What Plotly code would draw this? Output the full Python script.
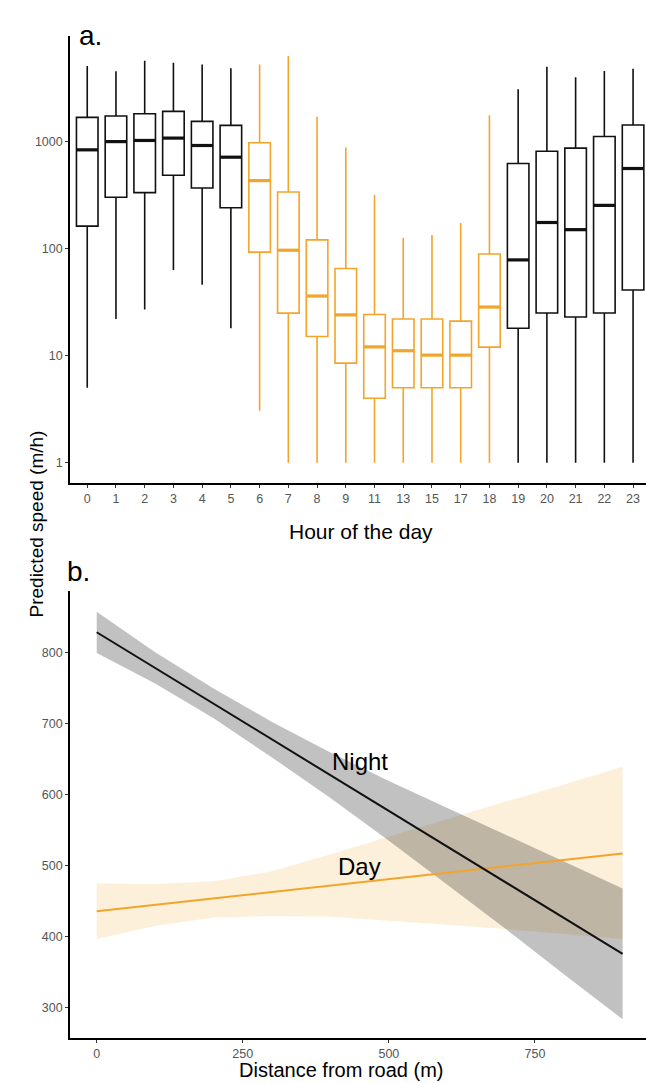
import plotly.graph_objects as go

# ---------------- data: panel a (boxplots, log scale) ----------------
hours = ["0", "1", "2", "3", "4", "5", "6", "7", "8", "9", "11", "13", "15", "17", "18",
         "19", "20", "21", "22", "23"]
period = ["Night"] * 6 + ["Day"] * 9 + ["Night"] * 5
box_low = [5.0, 22, 27, 63, 46, 18, 3.05, 1, 1, 1, 1, 1, 1, 1, 1, 1, 1, 1, 1, 1]
box_q1 = [162, 301, 333, 483, 368, 240, 92.5, 24.9, 15.1, 8.5, 4.0, 5.0, 5.0, 5.0, 12, 18, 25, 22.9, 25, 41]
box_med = [835, 997, 1022, 1075, 917, 713, 431, 96.4, 36, 24, 12.05, 11.1, 10.1, 10.1, 28.4, 78.3, 175, 150, 253, 559]
box_q3 = [1680, 1730, 1815, 1910, 1540, 1413, 972, 337, 120.5, 65, 24.2, 22, 22, 21, 89, 622, 811, 866, 1114, 1423]
box_high = [5080, 4530, 5660, 5420, 5230, 4830, 5230, 6270, 1703, 878, 316, 126, 134, 173, 1754, 3072, 4980, 3980, 4560, 4770]
log_ticks = [1, 10, 100, 1000]

# ---------------- data: panel b (predictions with CI) ----------------
dist = [0, 100, 200, 300, 400, 500, 600, 700, 800, 900]
night_fit = [828, 777.8, 727.6, 677.3, 627.1, 576.9, 526.7, 476.5, 426.2, 376]
night_upper = [857, 800, 749, 702, 659, 619, 581, 543, 505, 468]
night_lower = [799, 756, 707, 652, 595, 535, 473, 411, 347, 284]
day_fit = [436, 445, 454, 463, 472, 481, 490, 499, 508, 517]
day_upper = [475, 474, 478, 492, 516, 541, 566, 590, 614, 639]
day_lower = [397, 415, 427, 429, 428, 423, 417, 411, 404, 397]
dist_ticks = [0, 250, 500, 750]
speed_ticks = [300, 400, 500, 600, 700, 800]

ORANGE = "#F2A52B"
BLACK = "#111111"
colors = {"Night": BLACK, "Day": ORANGE}
BOX_W = 0.75

W, H = 646, 1083
fig = go.Figure()

# ---- panel a boxes ----
for grp in ["Night", "Day"]:
    idx = [i for i, p in enumerate(period) if p == grp]
    fig.add_trace(go.Box(
        x=idx,
        q1=[box_q1[i] for i in idx], median=[box_med[i] for i in idx],
        q3=[box_q3[i] for i in idx],
        lowerfence=[box_low[i] for i in idx], upperfence=[box_high[i] for i in idx],
        width=BOX_W, whiskerwidth=0, fillcolor="white",
        line=dict(color=colors[grp], width=1.6),
        boxpoints=False, showlegend=False, hoverinfo="skip",
        xaxis="x", yaxis="y"))
    # thicker median bars
    mx, my = [], []
    for i in idx:
        mx += [i - BOX_W / 2, i + BOX_W / 2, None]
        my += [box_med[i], box_med[i], None]
    fig.add_trace(go.Scatter(x=mx, y=my, mode="lines",
                             line=dict(color=colors[grp], width=3.2),
                             showlegend=False, hoverinfo="skip", xaxis="x", yaxis="y"))

# ---- panel b bands and lines ----
def band(lower, upper, fillcolor):
    fig.add_trace(go.Scatter(x=dist, y=lower, mode="lines", line=dict(width=0),
                             showlegend=False, hoverinfo="skip", xaxis="x2", yaxis="y2"))
    fig.add_trace(go.Scatter(x=dist, y=upper, mode="lines", line=dict(width=0),
                             fill="tonexty", fillcolor=fillcolor,
                             showlegend=False, hoverinfo="skip", xaxis="x2", yaxis="y2"))

band(day_lower, day_upper, "rgba(245,166,35,0.17)")
band(night_lower, night_upper, "rgba(0,0,0,0.245)")
fig.add_trace(go.Scatter(x=dist, y=day_fit, mode="lines", line=dict(color=ORANGE, width=2),
                         showlegend=False, xaxis="x2", yaxis="y2"))
fig.add_trace(go.Scatter(x=dist, y=night_fit, mode="lines", line=dict(color=BLACK, width=2),
                         showlegend=False, xaxis="x2", yaxis="y2"))

FONT = "Liberation Sans, Arial, sans-serif"
tickfont = dict(family=FONT, size=12.5, color="#555555")
x0 = 70 / W
axis_common = dict(showline=True, linecolor="black", linewidth=1.6, ticks="outside",
                   ticklen=3, tickwidth=1, tickcolor="#333333", showgrid=False,
                   zeroline=False, tickfont=tickfont)

fig.update_layout(
    width=W, height=H, margin=dict(l=0, r=0, t=0, b=0),
    plot_bgcolor="white", paper_bgcolor="white",
    font=dict(family=FONT),
    xaxis=dict(domain=[x0, 1], range=[-0.6, 19.45], tickvals=list(range(len(hours))),
               ticktext=hours, anchor="y", **axis_common),
    yaxis=dict(domain=[(H - 483) / H, (H - 36) / H], type="log", range=[-0.19, 3.985],
               tickvals=log_ticks, ticktext=[str(v) for v in log_ticks], anchor="x",
               **axis_common),
    xaxis2=dict(domain=[x0, 1], range=[-45.7, 940], tickvals=dist_ticks, anchor="y2",
                **axis_common),
    yaxis2=dict(domain=[(H - 1038) / H, (H - 591) / H], range=[257.7, 886],
                tickvals=speed_ticks, anchor="x2", **axis_common),
)

title_font = dict(size=20, color="black", family=FONT)
fig.add_annotation(text="Hour of the day", x=361 / W, y=(H - 531) / H, xref="paper", yref="paper",
                   showarrow=False, font=dict(size=21, color="black", family=FONT), yanchor="middle")
fig.add_annotation(text="Distance from road (m)", x=341 / W, y=(H - 1082) / H, xref="paper", yref="paper",
                   showarrow=False, font=title_font, yanchor="bottom", borderpad=0)
fig.add_annotation(text="Predicted speed (m/h)", x=23 / W, y=(H - 524) / H, xref="paper", yref="paper",
                   textangle=-90, showarrow=False, font=dict(size=19, color="black", family=FONT))
fig.add_annotation(text="a.", x=77 / W, y=(H - 18) / H, xref="paper", yref="paper",
                   xanchor="left", showarrow=False, font=dict(size=28, color="black", family=FONT))
fig.add_annotation(text="b.", x=65 / W, y=(H - 571) / H, xref="paper", yref="paper",
                   xanchor="left", showarrow=False, font=dict(size=28, color="black", family=FONT))
fig.add_annotation(text="Night", x=450, y=647, xref="x2", yref="y2", showarrow=False,
                   font=dict(size=24, color="black", family=FONT))
fig.add_annotation(text="Day", x=450, y=499, xref="x2", yref="y2", showarrow=False,
                   font=dict(size=24, color="black", family=FONT))

fig.write_html("out.html", config={"displayModeBar": False},
               post_script="document.body.style.margin='0px';")
